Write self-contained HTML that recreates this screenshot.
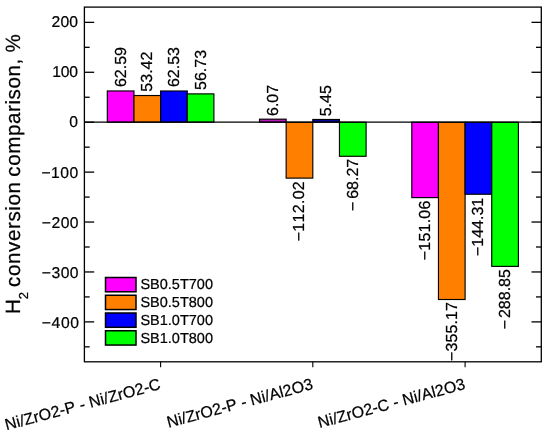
<!DOCTYPE html>
<html><head><meta charset="utf-8"><title>chart</title>
<style>
html,body{margin:0;padding:0;background:#fff;}
body{width:550px;height:434px;overflow:hidden;}
svg{display:block;will-change:transform;}
text{stroke:#000;stroke-width:0.22px;text-rendering:geometricPrecision;font-family:"Liberation Sans",sans-serif;fill:#000;font-kerning:none;}
</style></head><body>
<svg width="550" height="434" viewBox="0 0 550 434">
<rect width="550" height="434" fill="#fff"/>

<rect x="107.30" y="90.96" width="26.65" height="31.24" fill="#ff00ff" stroke="#000" stroke-width="1.15"/>
<text transform="translate(125.62,87.06) rotate(-90)" font-size="16" text-anchor="start">62.59</text>
<rect x="133.95" y="95.53" width="26.65" height="26.67" fill="#ff8000" stroke="#000" stroke-width="1.15"/>
<text transform="translate(152.27,91.63) rotate(-90)" font-size="16" text-anchor="start">53.42</text>
<rect x="160.60" y="90.99" width="26.65" height="31.21" fill="#0000ff" stroke="#000" stroke-width="1.15"/>
<text transform="translate(178.92,87.09) rotate(-90)" font-size="16" text-anchor="start">62.53</text>
<rect x="187.25" y="93.88" width="26.65" height="28.32" fill="#00ff00" stroke="#000" stroke-width="1.15"/>
<text transform="translate(205.57,89.98) rotate(-90)" font-size="16" text-anchor="start">56.73</text>
<rect x="259.50" y="119.17" width="26.65" height="3.03" fill="#b818b8" stroke="#000" stroke-width="1.15"/>
<text transform="translate(277.82,115.97) rotate(-90)" font-size="16" text-anchor="start">6.07</text>
<rect x="286.15" y="122.20" width="26.65" height="55.92" fill="#ff8000" stroke="#000" stroke-width="1.15"/>
<text transform="translate(304.47,180.92) rotate(-90)" font-size="16" letter-spacing="0.3" text-anchor="end" xml:space="preserve">−<tspan>112.02</tspan></text>
<rect x="312.80" y="119.48" width="26.65" height="2.72" fill="#0808a8" stroke="#000" stroke-width="1.15"/>
<text transform="translate(331.12,116.28) rotate(-90)" font-size="16" text-anchor="start">5.45</text>
<rect x="339.45" y="122.20" width="26.65" height="34.08" fill="#00ff00" stroke="#000" stroke-width="1.15"/>
<text transform="translate(357.77,158.78) rotate(-90)" font-size="16" letter-spacing="0" text-anchor="end" xml:space="preserve">−<tspan dx="2.8">68.27</tspan></text>
<rect x="411.80" y="122.20" width="26.65" height="75.41" fill="#ff00ff" stroke="#000" stroke-width="1.15"/>
<text transform="translate(430.12,200.51) rotate(-90)" font-size="16" letter-spacing="0.2" text-anchor="end" xml:space="preserve">−<tspan>151.06</tspan></text>
<rect x="438.45" y="122.20" width="26.65" height="177.30" fill="#ff8000" stroke="#000" stroke-width="1.15"/>
<text transform="translate(456.77,301.90) rotate(-90)" font-size="16" letter-spacing="0.1" text-anchor="end" xml:space="preserve">−<tspan>355.17</tspan></text>
<rect x="465.10" y="122.20" width="26.65" height="72.04" fill="#0000ff" stroke="#000" stroke-width="1.15"/>
<text transform="translate(483.43,197.74) rotate(-90)" font-size="16" letter-spacing="0" text-anchor="end" xml:space="preserve">−<tspan>144.31</tspan></text>
<rect x="491.75" y="122.20" width="26.65" height="144.19" fill="#00ff00" stroke="#000" stroke-width="1.15"/>
<text transform="translate(510.07,269.09) rotate(-90)" font-size="16" letter-spacing="0" text-anchor="end" xml:space="preserve">−<tspan dx="2.0">288.85</tspan></text>
<line x1="84.4" x2="541.3" y1="122.2" y2="122.2" stroke="#000" stroke-width="1.3"/>
<rect x="84.4" y="7.1" width="456.9" height="354.7" fill="none" stroke="#000" stroke-width="1.3"/>
<line x1="84.4" x2="89.7" y1="346.84" y2="346.84" stroke="#000" stroke-width="1.3"/>
<line x1="541.3" x2="536.0" y1="346.84" y2="346.84" stroke="#000" stroke-width="1.3"/>
<line x1="84.4" x2="94.2" y1="321.88" y2="321.88" stroke="#000" stroke-width="1.3"/>
<line x1="541.3" x2="531.5" y1="321.88" y2="321.88" stroke="#000" stroke-width="1.3"/>
<text x="79.60" y="327.78" font-size="15.7" letter-spacing="0.6" text-anchor="end">−400</text>
<line x1="84.4" x2="89.7" y1="296.92" y2="296.92" stroke="#000" stroke-width="1.3"/>
<line x1="541.3" x2="536.0" y1="296.92" y2="296.92" stroke="#000" stroke-width="1.3"/>
<line x1="84.4" x2="94.2" y1="271.96" y2="271.96" stroke="#000" stroke-width="1.3"/>
<line x1="541.3" x2="531.5" y1="271.96" y2="271.96" stroke="#000" stroke-width="1.3"/>
<text x="79.10" y="277.76" font-size="15.7" letter-spacing="0.5" text-anchor="end">−300</text>
<line x1="84.4" x2="89.7" y1="247.00" y2="247.00" stroke="#000" stroke-width="1.3"/>
<line x1="541.3" x2="536.0" y1="247.00" y2="247.00" stroke="#000" stroke-width="1.3"/>
<line x1="84.4" x2="94.2" y1="222.04" y2="222.04" stroke="#000" stroke-width="1.3"/>
<line x1="541.3" x2="531.5" y1="222.04" y2="222.04" stroke="#000" stroke-width="1.3"/>
<text x="79.10" y="227.84" font-size="15.7" letter-spacing="0.5" text-anchor="end">−200</text>
<line x1="84.4" x2="89.7" y1="197.08" y2="197.08" stroke="#000" stroke-width="1.3"/>
<line x1="541.3" x2="536.0" y1="197.08" y2="197.08" stroke="#000" stroke-width="1.3"/>
<line x1="84.4" x2="94.2" y1="172.12" y2="172.12" stroke="#000" stroke-width="1.3"/>
<line x1="541.3" x2="531.5" y1="172.12" y2="172.12" stroke="#000" stroke-width="1.3"/>
<text x="78.80" y="177.62" font-size="15.7" letter-spacing="0.5" text-anchor="end">−100</text>
<line x1="84.4" x2="89.7" y1="147.16" y2="147.16" stroke="#000" stroke-width="1.3"/>
<line x1="541.3" x2="536.0" y1="147.16" y2="147.16" stroke="#000" stroke-width="1.3"/>
<line x1="84.4" x2="94.2" y1="122.20" y2="122.20" stroke="#000" stroke-width="1.3"/>
<line x1="541.3" x2="531.5" y1="122.20" y2="122.20" stroke="#000" stroke-width="1.3"/>
<text x="78.10" y="126.80" font-size="15.7" letter-spacing="0" text-anchor="end">0</text>
<line x1="84.4" x2="89.7" y1="97.24" y2="97.24" stroke="#000" stroke-width="1.3"/>
<line x1="541.3" x2="536.0" y1="97.24" y2="97.24" stroke="#000" stroke-width="1.3"/>
<line x1="84.4" x2="94.2" y1="72.28" y2="72.28" stroke="#000" stroke-width="1.3"/>
<line x1="541.3" x2="531.5" y1="72.28" y2="72.28" stroke="#000" stroke-width="1.3"/>
<text x="78.00" y="77.48" font-size="15.7" letter-spacing="-0.1" text-anchor="end">100</text>
<line x1="84.4" x2="89.7" y1="47.32" y2="47.32" stroke="#000" stroke-width="1.3"/>
<line x1="541.3" x2="536.0" y1="47.32" y2="47.32" stroke="#000" stroke-width="1.3"/>
<line x1="84.4" x2="94.2" y1="22.36" y2="22.36" stroke="#000" stroke-width="1.3"/>
<line x1="541.3" x2="531.5" y1="22.36" y2="22.36" stroke="#000" stroke-width="1.3"/>
<text x="78.30" y="26.96" font-size="15.7" letter-spacing="0.2" text-anchor="end">200</text>
<line x1="160.6" x2="160.6" y1="361.8" y2="367.3" stroke="#000" stroke-width="1.1"/>
<line x1="312.8" x2="312.8" y1="361.8" y2="367.3" stroke="#000" stroke-width="1.1"/>
<line x1="465.1" x2="465.1" y1="361.8" y2="367.3" stroke="#000" stroke-width="1.1"/>
<text transform="translate(20.3,314.0) rotate(-90)" font-size="20.6">H</text>
<text transform="translate(28.3,299.2) rotate(-90)" font-size="13">2</text>
<text transform="translate(20.3,286.9) rotate(-90)" font-size="20.6" textLength="104.9" lengthAdjust="spacing">conversion</text>
<text transform="translate(20.3,176.7) rotate(-90)" font-size="20.6" textLength="118.0" lengthAdjust="spacing">comparison,</text>
<text transform="translate(20.3,52.6) rotate(-90)" font-size="20.6">%</text>
<text transform="translate(161.60,388.80) rotate(-15)" font-size="16" letter-spacing="0.07" text-anchor="end">Ni/ZrO2-P - Ni/ZrO2-C</text>
<text transform="translate(313.80,388.80) rotate(-15)" font-size="16" letter-spacing="0.01" text-anchor="end">Ni/ZrO2-P - Ni/Al2O3</text>
<text transform="translate(466.10,388.80) rotate(-15)" font-size="16" letter-spacing="0.03" text-anchor="end">Ni/ZrO2-C - Ni/Al2O3</text>
<rect x="105.5" y="277.50" width="30.5" height="14.3" fill="#ff00ff" stroke="#000" stroke-width="1.5"/>
<text x="140.4" y="289.00" font-size="14.5">SB0.5T700</text>
<rect x="105.5" y="295.25" width="30.5" height="14.3" fill="#ff8000" stroke="#000" stroke-width="1.5"/>
<text x="140.4" y="306.93" font-size="14.5">SB0.5T800</text>
<rect x="105.5" y="313.00" width="30.5" height="14.3" fill="#0000ff" stroke="#000" stroke-width="1.5"/>
<text x="140.4" y="324.86" font-size="14.5">SB1.0T700</text>
<rect x="105.5" y="330.75" width="30.5" height="14.3" fill="#00ff00" stroke="#000" stroke-width="1.5"/>
<text x="140.4" y="342.79" font-size="14.5">SB1.0T800</text>
</svg></body></html>
